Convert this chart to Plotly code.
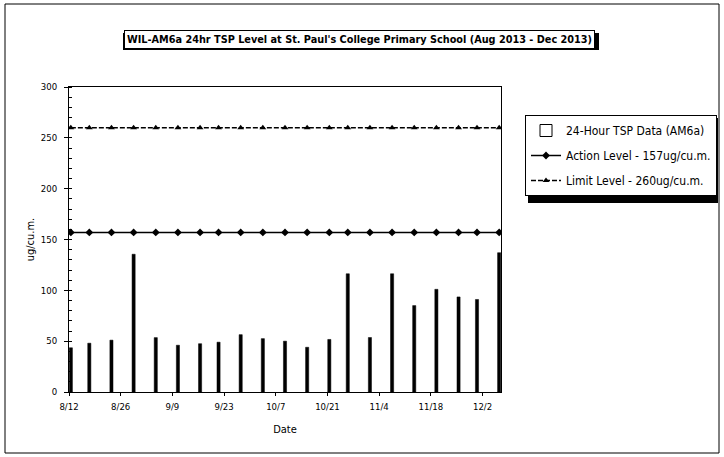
import plotly.graph_objects as go

# ---- data ----
dates = ["2013-08-12", "2013-08-17", "2013-08-23", "2013-08-29", "2013-09-04",
         "2013-09-10", "2013-09-16", "2013-09-21", "2013-09-27", "2013-10-03",
         "2013-10-09", "2013-10-15", "2013-10-21", "2013-10-26", "2013-11-01",
         "2013-11-07", "2013-11-13", "2013-11-19", "2013-11-25", "2013-11-30",
         "2013-12-06"]
tsp = [43.5, 48, 51, 135.5, 53.5, 46, 47.5, 49, 56.4, 52.5,
       50, 44, 51.7, 116.3, 53.6, 116.3, 85, 101, 93.5, 91, 137]
action_level = [157] * len(dates)
limit_level = [260] * len(dates)

title_text = "WIL-AM6a 24hr TSP Level at St. Paul's College Primary School (Aug 2013 - Dec 2013)"
bar_name = "24-Hour TSP Data (AM6a)"
action_name = "Action Level - 157ug/cu.m."
limit_name = "Limit Level - 260ug/cu.m."

DAY = 86400000
FONT = "Liberation Sans Narrow, DejaVu Sans Condensed, Liberation Sans, Arial, sans-serif"

fig = go.Figure()

fig.add_trace(go.Bar(
    x=dates, y=tsp, width=0.85 * DAY, xperiod=DAY, xperiodalignment="middle",
    marker=dict(color="black", line=dict(color="black", width=0.5)),
    showlegend=False, name=bar_name))

# legend entry for the bars (hollow box as in the reference)
fig.add_trace(go.Bar(
    x=[None], y=[None], name=bar_name, legendgroup="a",
    marker=dict(color="white", line=dict(color="black", width=1))))

fig.add_trace(go.Scatter(
    x=dates, y=action_level, name=action_name, mode="lines+markers",
    xperiod=DAY, xperiodalignment="middle", legendgroup="b",
    line=dict(color="black", width=1.5),
    marker=dict(symbol="diamond", size=6, color="black")))

fig.add_trace(go.Scatter(
    x=dates, y=limit_level, name=limit_name, mode="lines+markers",
    xperiod=DAY, xperiodalignment="middle", legendgroup="c",
    line=dict(color="black", width=1.5, dash="5px,2px"),
    marker=dict(symbol="triangle-up", size=6, color="black")))

L, R, T, B = 69, 501, 87, 392
W, H = 724, 457
pw, ph = R - L, B - T


def px(xp):
    return (xp - L) / pw


def py(yp):
    return (B - yp) / ph


shapes = [
    # outer chart border
    dict(type="rect", xref="paper", yref="paper", x0=px(5), x1=px(719), y0=py(453), y1=py(4),
         line=dict(color="black", width=1), fillcolor="rgba(0,0,0,0)", layer="below"),
    # title shadow
    dict(type="rect", xref="paper", yref="paper", x0=px(123), x1=px(599), y0=py(50), y1=py(33),
         line=dict(width=0), fillcolor="black", layer="above"),
    # legend shadow
    dict(type="rect", xref="paper", yref="paper", x0=px(528), x1=px(718), y0=py(203), y1=py(118),
         line=dict(width=0), fillcolor="black", layer="above"),
]

fig.update_layout(
    width=W, height=H,
    margin=dict(l=L, r=W - R, t=T, b=H - B, autoexpand=False),
    paper_bgcolor="white", plot_bgcolor="white",
    font=dict(family=FONT, size=10, color="black"),
    barmode="overlay",
    shapes=shapes,
    annotations=[dict(
        text="<b>" + title_text + "</b>", xref="paper", yref="paper",
        x=px(359), y=py(39.5), xanchor="center", yanchor="middle", showarrow=False,
        font=dict(family=FONT, size=10.8, color="black"),
        bgcolor="white", bordercolor="black", borderwidth=1, borderpad=2)],
    legend=dict(
        x=px(525), y=py(115), xanchor="left", yanchor="top",
        bgcolor="white", bordercolor="black", borderwidth=1,
        font=dict(family=FONT, size=12, color="black"),
        tracegroupgap=6, traceorder="grouped"),
    xaxis=dict(
        type="date", range=["2013-08-12", "2013-12-07"],
        tick0="2013-08-12", dtick=14 * DAY, tickformat="%-m/%-d",
        ticks="outside", ticklen=3, tickcolor="black", ticklabelstandoff=3,
        showline=True, linecolor="black", linewidth=1, mirror=True,
        showgrid=False, zeroline=False,
        tickfont=dict(family=FONT, size=9.5, color="black"),
        title=dict(text="Date", standoff=13, font=dict(family=FONT, size=11, color="black"))),
    yaxis=dict(
        range=[0, 300], dtick=50, tick0=0,
        ticks="outside", ticklen=4, tickcolor="black", ticklabelstandoff=5,
        minor=dict(dtick=10, ticks="inside", ticklen=3, tickcolor="black"),
        showline=True, linecolor="black", linewidth=1, mirror=True,
        showgrid=False, zeroline=False,
        tickfont=dict(family=FONT, size=9.5, color="black"),
        title=dict(text="ug/cu.m.", standoff=3, font=dict(family=FONT, size=11, color="black"))),
)

fig.write_html("out.html", config={"displayModeBar": False},
               post_script="document.body.style.margin='0px';")
